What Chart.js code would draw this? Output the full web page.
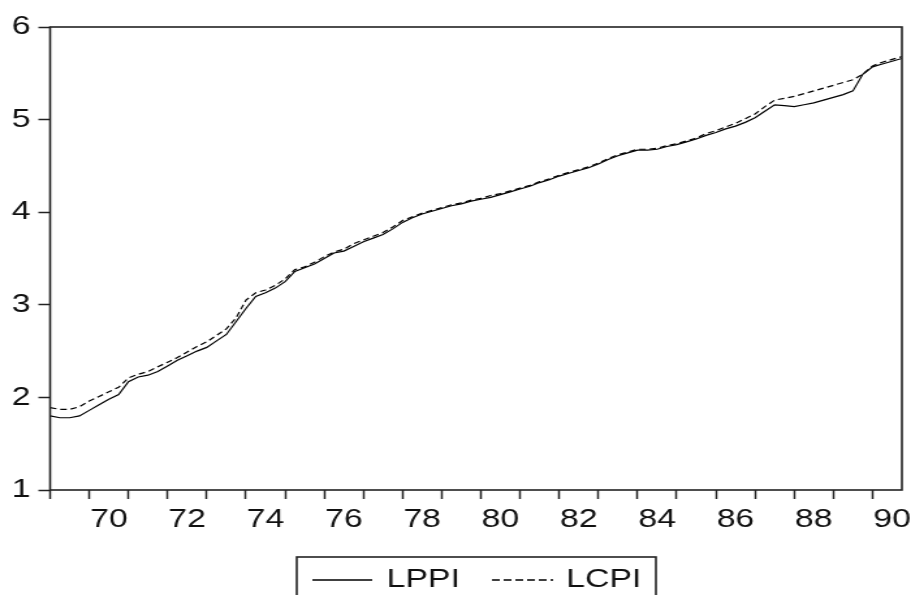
<!DOCTYPE html>
<html><head><meta charset="utf-8">
<script src="https://cdn.jsdelivr.net/npm/chart.js@4.4.0/dist/chart.umd.min.js"></script>
<style>html,body{margin:0;padding:0;background:#fff;}#wrap{width:911px;height:595px;position:relative;overflow:hidden;}
#c{display:block;width:911px;height:595px;}</style>
</head><body><div id="wrap"><canvas id="c" width="700" height="595" style="width:911px;height:595px"></canvas></div>
<script>
const periods = [
'1969Q1','1969Q2','1969Q3','1969Q4','1970Q1','1970Q2','1970Q3','1970Q4',
'1971Q1','1971Q2','1971Q3','1971Q4','1972Q1','1972Q2','1972Q3','1972Q4',
'1973Q1','1973Q2','1973Q3','1973Q4','1974Q1','1974Q2','1974Q3','1974Q4',
'1975Q1','1975Q2','1975Q3','1975Q4','1976Q1','1976Q2','1976Q3','1976Q4',
'1977Q1','1977Q2','1977Q3','1977Q4','1978Q1','1978Q2','1978Q3','1978Q4',
'1979Q1','1979Q2','1979Q3','1979Q4','1980Q1','1980Q2','1980Q3','1980Q4',
'1981Q1','1981Q2','1981Q3','1981Q4','1982Q1','1982Q2','1982Q3','1982Q4',
'1983Q1','1983Q2','1983Q3','1983Q4','1984Q1','1984Q2','1984Q3','1984Q4',
'1985Q1','1985Q2','1985Q3','1985Q4','1986Q1','1986Q2','1986Q3','1986Q4',
'1987Q1','1987Q2','1987Q3','1987Q4','1988Q1','1988Q2','1988Q3','1988Q4',
'1989Q1','1989Q2','1989Q3','1989Q4','1990Q1','1990Q2','1990Q3','1990Q4'
];
const lppi = [
1.80,1.78,1.78,1.80, 1.86,1.92,1.98,2.03,
2.17,2.22,2.24,2.28, 2.34,2.40,2.45,2.50,
2.54,2.61,2.68,2.82, 2.96,3.09,3.13,3.18,
3.25,3.36,3.40,3.44, 3.50,3.56,3.58,3.63,
3.68,3.72,3.76,3.82, 3.89,3.94,3.98,4.01,
4.04,4.07,4.09,4.12, 4.14,4.16,4.19,4.22,
4.25,4.28,4.32,4.35, 4.39,4.42,4.45,4.48,
4.52,4.57,4.61,4.64, 4.67,4.67,4.68,4.71,
4.73,4.76,4.79,4.83, 4.86,4.90,4.93,4.97,
5.02,5.09,5.16,5.15, 5.14,5.16,5.18,5.21,
5.24,5.27,5.31,5.49, 5.57,5.60,5.63,5.66
];
const lcpi = [
1.89,1.87,1.87,1.90, 1.96,2.01,2.06,2.11,
2.21,2.25,2.28,2.33, 2.38,2.43,2.49,2.55,
2.60,2.67,2.74,2.86, 3.05,3.13,3.16,3.21,
3.28,3.38,3.41,3.46, 3.52,3.57,3.60,3.66,
3.70,3.74,3.78,3.84, 3.91,3.95,3.99,4.02,
4.05,4.08,4.10,4.13, 4.15,4.18,4.20,4.23,
4.26,4.29,4.33,4.36, 4.40,4.43,4.46,4.49,
4.53,4.58,4.62,4.65, 4.68,4.68,4.69,4.72,
4.74,4.77,4.80,4.85, 4.88,4.92,4.96,5.01,
5.06,5.14,5.21,5.23, 5.25,5.28,5.31,5.34,
5.37,5.40,5.43,5.49, 5.58,5.62,5.65,5.68
];
const xTickLabels = ['70','72','74','76','78','80','82','84','86','88','90'];
const xYearTicks = [1969,1970,1971,1972,1973,1974,1975,1976,1977,1978,1979,1980,1981,1982,1983,1984,1985,1986,1987,1988,1989,1990];
const yTicks = [1,2,3,4,5,6];
const seriesNames = ['LPPI','LCPI'];

const toX = p => parseInt(p.slice(0,4),10) + (parseInt(p.slice(5),10)-1)/4;
const pts = arr => arr.map((v,i)=>({x:toX(periods[i]), y:v}));
const labelMap = {};
xTickLabels.forEach(l => { labelMap[(1900+parseInt(l,10)+0.5).toFixed(1)] = l; });
const allXTicks = xYearTicks.concat(Object.keys(labelMap).map(Number)).sort((a,b)=>a-b);

const FONT = 'Liberation Sans, Arial, sans-serif';
const FS = 26;
const frameLegend = {
  id:'frameLegend',
  afterDraw(chart){
    const {ctx, chartArea:a} = chart;
    ctx.save();
    ctx.strokeStyle = '#222'; ctx.lineWidth = 1.6; ctx.setLineDash([]);
    ctx.strokeRect(a.left, a.top, a.right-a.left, a.bottom-a.top);
    // legend box (canvas coords; canvas is stretched horizontally by CSS)
    const bx = 228, by = 557, bw = 276, bh = 60, cy = 580;
    ctx.lineWidth = 1.6;
    ctx.strokeRect(bx, by, bw, bh);
    ctx.lineWidth = 1.3; ctx.strokeStyle = '#000';
    ctx.beginPath(); ctx.moveTo(240, cy); ctx.lineTo(286, cy); ctx.stroke();
    ctx.setLineDash([6,3]);
    ctx.beginPath(); ctx.moveTo(378, cy); ctx.lineTo(425, cy); ctx.stroke();
    ctx.setLineDash([]);
    ctx.fillStyle = '#111'; ctx.font = FS + 'px ' + FONT; ctx.textBaseline = 'middle'; ctx.textAlign = 'left';
    ctx.fillText(seriesNames[0], 297, cy);
    ctx.fillText(seriesNames[1], 435, cy);
    ctx.restore();
  }
};

new Chart(document.getElementById('c'), {
  type:'line',
  data:{ datasets:[
    {label:seriesNames[0], data:pts(lppi), borderColor:'#000', borderWidth:1.2, pointRadius:0, tension:0, fill:false},
    {label:seriesNames[1], data:pts(lcpi), borderColor:'#000', borderWidth:1.2, borderDash:[5,3], pointRadius:0, tension:0, fill:false}
  ]},
  options:{
    responsive:false, animation:false, devicePixelRatio:1,
    layout:{padding:{top:27, right:7, left:0, bottom:0}},
    plugins:{legend:{display:false}, tooltip:{enabled:false}},
    scales:{
      x:{ type:'linear', min:1969, max:1990.75,
        afterBuildTicks(axis){ axis.ticks = allXTicks.map(v=>({value:v})); },
        ticks:{ autoSkip:false, maxRotation:0, minRotation:0, padding:5, color:'#111',
          font:{family:FONT, size:FS},
          callback:(v)=> labelMap[Number(v).toFixed(1)] || '' },
        grid:{ drawOnChartArea:false, drawTicks:true, tickLength:9, tickWidth:1.5,
          tickColor:(c)=> (c.tick && Number.isInteger(c.tick.value)) ? '#222' : 'rgba(0,0,0,0)' },
        border:{display:false},
        afterFit(axis){ axis.height = 105; axis.paddingLeft = 0; axis.paddingRight = 0; }
      },
      y:{ min:1, max:6,
        afterBuildTicks(axis){ axis.ticks = yTicks.map(v=>({value:v})); },
        ticks:{ padding:6, color:'#111', font:{family:FONT, size:FS} },
        grid:{ drawOnChartArea:false, drawTicks:true, tickLength:9, tickWidth:1.5, tickColor:'#222' },
        border:{display:false},
        afterFit(axis){ axis.width = 38.5; axis.paddingTop = 0; axis.paddingBottom = 0; }
      }
    }
  },
  plugins:[frameLegend]
});
</script></body></html>
